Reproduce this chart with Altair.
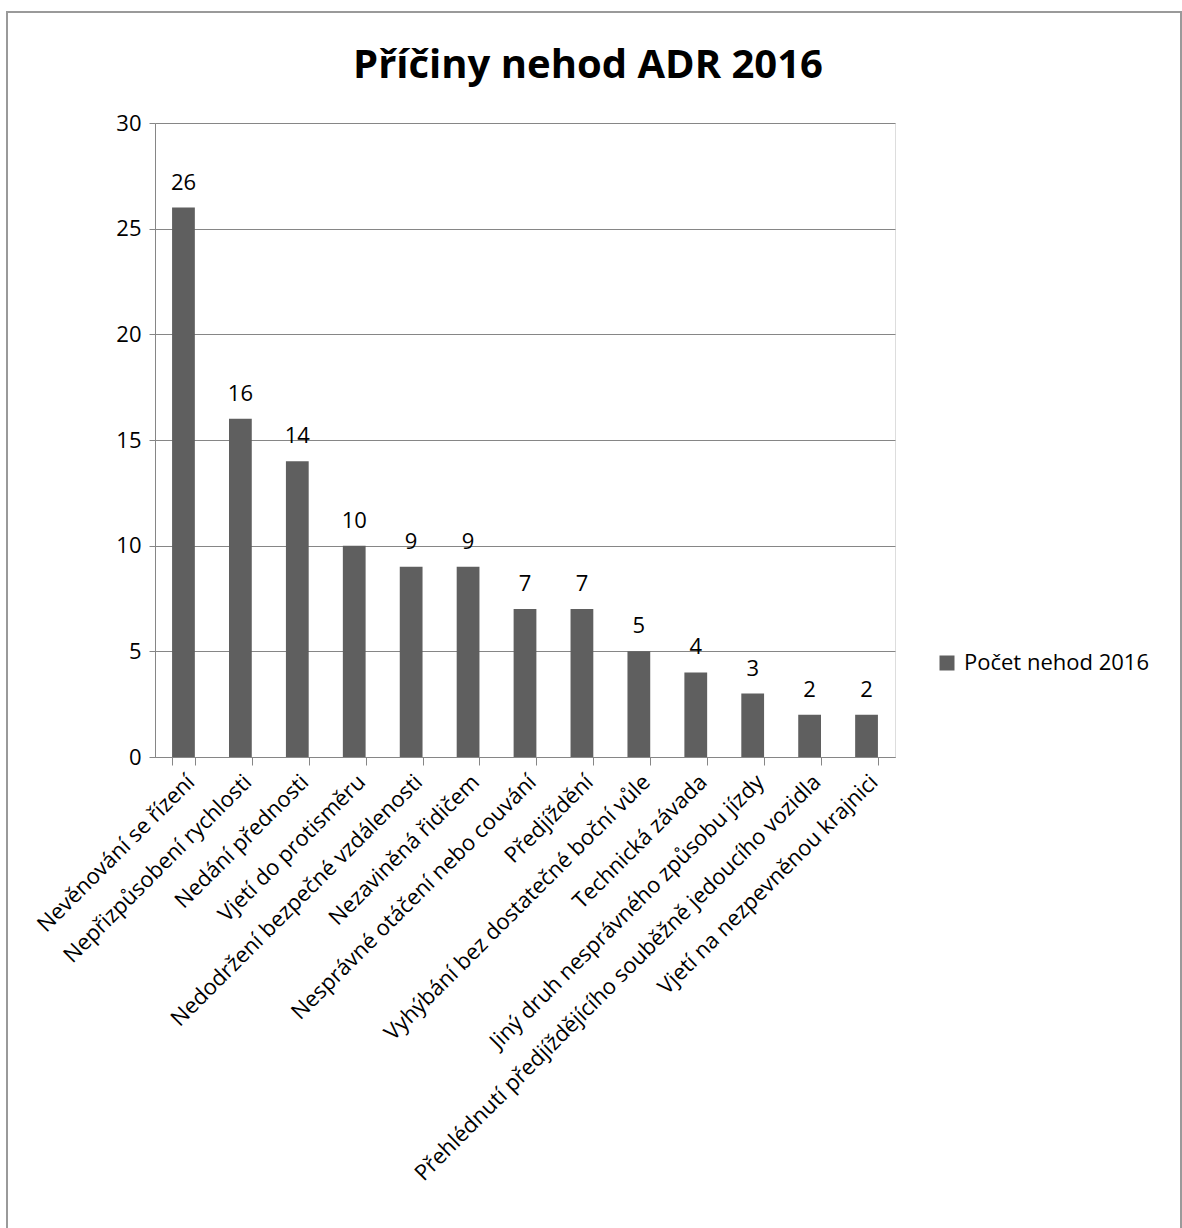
import altair as alt
import pandas as pd

categories = [
    "Nevěnování se řízení",
    "Nepřizpůsobení rychlosti",
    "Nedání přednosti",
    "Vjetí do protisměru",
    "Nedodržení bezpečné vzdálenosti",
    "Nezaviněná řidičem",
    "Nesprávné otáčení nebo couvání",
    "Předjíždění",
    "Vyhýbání bez dostatečné boční vůle",
    "Technická závada",
    "Jiný druh nesprávného způsobu jízdy",
    "Přehlédnutí předjíždějícího souběžně jedoucího vozidla",
    "Vjetí na nezpevněnou krajnici",
]
values = [26, 16, 14, 10, 9, 9, 7, 7, 5, 4, 3, 2, 2]
series_name = "Počet nehod 2016"
title_text = "Příčiny nehod ADR 2016"

df = pd.DataFrame({"Příčina": categories, "Počet": values, "Série": series_name})

FONT = "Open Sans"
FS = 22
W, H = 740, 634

x_enc = alt.X(
    "Příčina:N",
    sort=categories,
    scale=alt.Scale(paddingInner=0.6, paddingOuter=0.3),
    axis=alt.Axis(
        title=None,
        labelAngle=-45,
        labelFontSize=FS,
        labelFont=FONT,
        labelColor="black",
        labelPadding=6,
        tickBand="extent",
        tickSize=8,
        tickColor="#868686",
        domainColor="#868686",
        labelLimit=900,
        grid=False,
    ),
)

bars = alt.Chart(df).mark_bar(color="#5f5f5f").encode(
    x=x_enc,
    y=alt.Y(
        "Počet:Q",
        scale=alt.Scale(domain=[0, 30]),
        axis=alt.Axis(
            title=None,
            values=[0, 5, 10, 15, 20, 25, 30],
            labelFontSize=FS,
            labelFont=FONT,
            labelColor="black",
            labelPadding=8,
            tickSize=6,
            tickColor="#868686",
            domainColor="#868686",
            gridColor="#868686",
            grid=True,
        ),
    ),
    color=alt.Color(
        "Série:N",
        scale=alt.Scale(range=["#5f5f5f"]),
        legend=alt.Legend(
            title=None,
            orient="none",
            legendX=781,
            legendY=529,
            labelFontSize=FS,
            labelFont=FONT,
            labelColor="black",
            labelOffset=6,
            labelLimit=400,
            symbolType="square",
            symbolSize=225,
            symbolStrokeWidth=0,
        ),
    ),
)

labels = alt.Chart(df).mark_text(
    dy=-25, fontSize=FS, font=FONT, color="black"
).encode(
    x=alt.X("Příčina:N", sort=categories),
    y="Počet:Q",
    text="Počet:Q",
)

title_df = pd.DataFrame({"t": [title_text]})
title = alt.Chart(title_df).mark_text(
    fontSize=40, font=FONT, fontWeight="bold", color="black",
    align="center", baseline="middle",
).encode(
    text="t:N", x=alt.value(433), y=alt.value(-57)
)

frame = alt.Chart(df).mark_rect(
    fill=None, stroke="#9a9a9a", strokeWidth=2
).encode(
    x=alt.value(-148), x2=alt.value(1026), y=alt.value(-111), y2=alt.value(1200)
)

chart = (
    alt.layer(frame, bars, labels, title)
    .properties(
        width=W,
        height=H,
        autosize=alt.AutoSizeParams(type="none"),
        padding={"left": 155, "top": 123, "right": 287, "bottom": 471},
    )
    .configure_view(stroke=None)
    .configure(background="white")
)

chart.save("out.html", embed_options={"renderer": "svg", "actions": False})
